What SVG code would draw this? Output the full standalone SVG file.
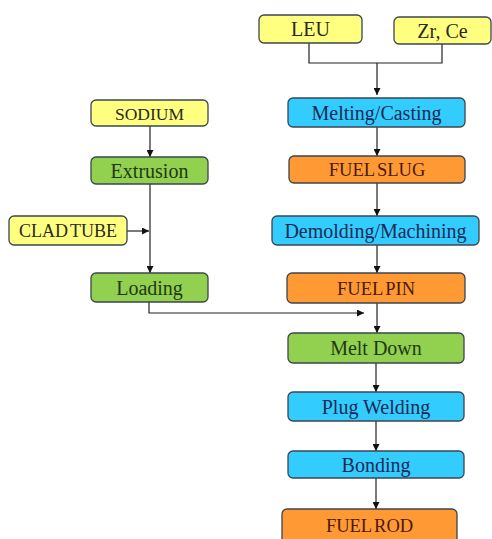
<svg xmlns="http://www.w3.org/2000/svg" width="492" height="539" viewBox="0 0 492 539">
<defs>
<marker id="ah" viewBox="0 0 10 10" refX="10" refY="5" markerWidth="7" markerHeight="7" markerUnits="userSpaceOnUse" orient="auto">
<path d="M0,0 L10,5 L0,10 z" fill="#111"/>
</marker>
<style>
.box{stroke:#3c4650;stroke-width:1.3}
.y{fill:#ffff80}
.g{fill:#92d050}
.b{fill:#33ccff}
.o{fill:#ff9933}
text{font-family:"Liberation Serif","Times New Roman",serif;text-anchor:middle;font-size:20px}
.ty{fill:#2a2a1a}
.tg{fill:#1e3a12}
.tb{fill:#1a2a55}
.to{fill:#4a1a0a;font-size:18.5px;word-spacing:-2px}
.ln{fill:none;stroke:#222;stroke-width:1.2}
</style>
</defs>
<rect width="492" height="539" fill="#fff"/>
<g id="connectors">
<path class="ln" d="M309,43 V63 H442 V44"/>
<path class="ln" d="M377,63 V95" marker-end="url(#ah)"/>
<path class="ln" d="M377,127 V156" marker-end="url(#ah)"/>
<path class="ln" d="M377,183 V216" marker-end="url(#ah)"/>
<path class="ln" d="M377,245 V273" marker-end="url(#ah)"/>
<path class="ln" d="M377,303 V333" marker-end="url(#ah)"/>
<path class="ln" d="M376,363 V392" marker-end="url(#ah)"/>
<path class="ln" d="M376,421 V451" marker-end="url(#ah)"/>
<path class="ln" d="M376,478 V509" marker-end="url(#ah)"/>
<path class="ln" d="M150,126 V157" marker-end="url(#ah)"/>
<path class="ln" d="M150,184 V273" marker-end="url(#ah)"/>
<path class="ln" d="M127,231 H149" marker-end="url(#ah)"/>
<path class="ln" d="M149,302 V313 H364" marker-end="url(#ah)"/>
</g>
<g id="leu"><rect class="box y" x="259" y="15" width="103" height="28" rx="5"/><text class="ty" x="310.5" y="36">LEU</text></g>
<g id="zrce"><rect class="box y" x="394" y="17" width="97" height="27" rx="5"/><text class="ty" x="442.5" y="37.5">Zr, Ce</text></g>
<g id="melting"><rect class="box b" x="288" y="98" width="177" height="29" rx="5"/><text class="tb" x="376.5" y="119.5">Melting/Casting</text></g>
<g id="fuelslug"><rect class="box o" x="289" y="156" width="176" height="27" rx="5"/><text class="to" x="377" y="176">FUEL SLUG</text></g>
<g id="demolding"><rect class="box b" x="272" y="216" width="207" height="29" rx="5"/><text class="tb" x="375.5" y="237.5">Demolding/Machining</text></g>
<g id="fuelpin"><rect class="box o" x="287" y="273" width="178" height="30" rx="5"/><text class="to" x="376" y="294.5">FUEL PIN</text></g>
<g id="meltdown"><rect class="box g" x="288" y="333" width="176" height="30" rx="5"/><text class="tg" x="376" y="355">Melt Down</text></g>
<g id="plugwelding"><rect class="box b" x="288" y="392" width="176" height="29" rx="5"/><text class="tb" x="376" y="413.5">Plug Welding</text></g>
<g id="bonding"><rect class="box b" x="288" y="451" width="176" height="27" rx="5"/><text class="tb" x="376" y="471.5">Bonding</text></g>
<g id="fuelrod"><rect class="box o" x="282" y="509" width="175" height="40" rx="5"/><text class="to" x="369.5" y="532">FUEL ROD</text></g>
<g id="sodium"><rect class="box y" x="91" y="100" width="117" height="26" rx="5"/><text class="ty" x="149.5" y="119.5" style="font-size:17.5px">SODIUM</text></g>
<g id="extrusion"><rect class="box g" x="91" y="157" width="117" height="27" rx="5"/><text class="tg" x="149.5" y="177.5">Extrusion</text></g>
<g id="cladtube"><rect class="box y" x="9" y="216" width="118" height="29" rx="5"/><text class="ty" x="68" y="237" style="font-size:18px;word-spacing:-2px">CLAD TUBE</text></g>
<g id="loading"><rect class="box g" x="91" y="273" width="117" height="29" rx="5"/><text class="tg" x="149.5" y="294.5">Loading</text></g>
</svg>
